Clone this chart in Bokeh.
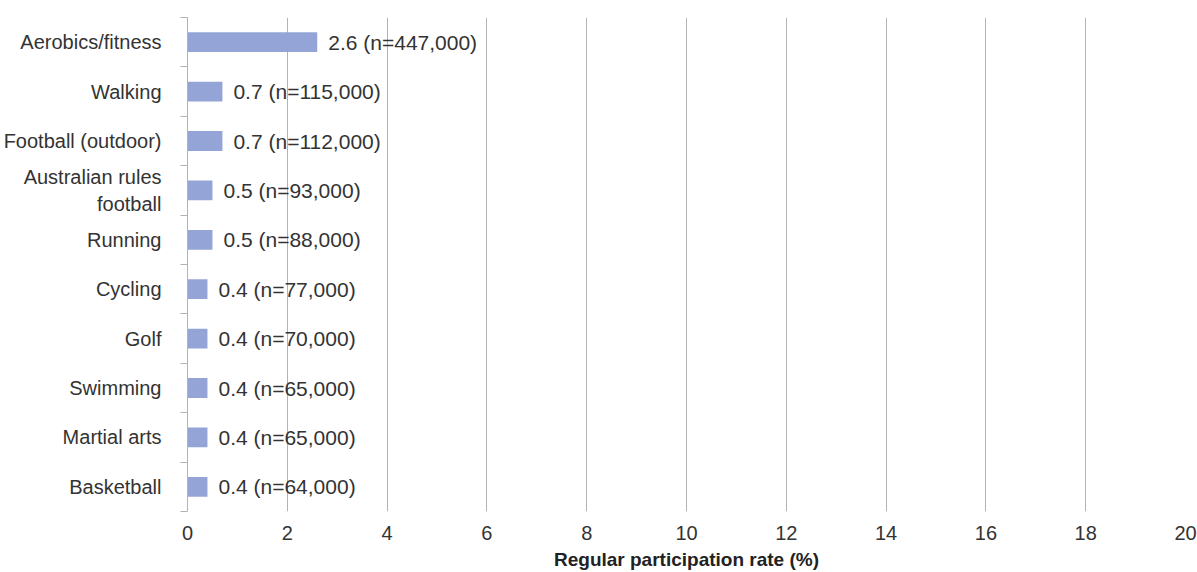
from bokeh.plotting import figure
from bokeh.models import ColumnDataSource, Range1d, FixedTicker
from bokeh.core.properties import value
from bokeh.embed import file_html
from bokeh.resources import INLINE

# Regular participation by activity
sports = ["Aerobics/fitness", "Walking", "Football (outdoor)", "Australian rules\nfootball",
          "Running", "Cycling", "Golf", "Swimming", "Martial arts", "Basketball"]
rates = [2.6, 0.7, 0.7, 0.5, 0.5, 0.4, 0.4, 0.4, 0.4, 0.4]
counts = ["447,000", "115,000", "112,000", "93,000", "88,000",
          "77,000", "70,000", "65,000", "65,000", "64,000"]
x_ticks = list(range(0, 21, 2))
x_title = "Regular participation rate (%)"

FONT = "Liberation Sans"
TEXT = "#333333"
GRID = "#b3b3b3"
BAR = "#95a4d6"

n = len(sports)
ypos = [n - 0.5 - i for i in range(n)]
labels = [f"{r:.1f} (n={c})" for r, c in zip(rates, counts)]

src = ColumnDataSource(dict(y=ypos, rate=rates, label=labels))

p = figure(width=1197, height=572, output_backend="svg", toolbar_location=None,
           x_range=Range1d(0, 20), y_range=Range1d(0, n),
           min_border_left=187, min_border_right=12,
           min_border_top=17, min_border_bottom=59)
p.outline_line_color = None
p.background_fill_color = "white"
p.border_fill_color = "white"

p.hbar(y="y", right="rate", left=0, height=0.4, source=src,
       fill_color=BAR, line_color=None)
p.text(x="rate", y="y", text="label", source=src, x_offset=11,
       text_baseline="middle", text_align="left",
       text_font=value(FONT), text_font_size="21px", text_color=TEXT)

# x axis: no line, gridlines act as ticks
xa = p.xaxis[0]
xa.ticker = FixedTicker(ticks=x_ticks)
xa.axis_line_color = None
xa.major_tick_line_color = None
xa.minor_tick_line_color = None
xa.major_label_standoff = 8
xa.major_label_text_font = FONT
xa.major_label_text_font_size = "20px"
xa.major_label_text_color = TEXT
xa.axis_label = x_title
xa.axis_label_text_font = FONT
xa.axis_label_text_font_style = "bold"
xa.axis_label_text_font_size = "19px"
xa.axis_label_text_color = "#222222"
xa.axis_label_standoff = 6

p.xgrid.ticker = FixedTicker(ticks=x_ticks)
p.xgrid.grid_line_color = GRID
p.xgrid.grid_line_width = 1
p.ygrid.grid_line_color = None

# y axis: category names at row centres, tick marks at row boundaries
ya = p.yaxis[0]
ya.ticker = FixedTicker(ticks=ypos, minor_ticks=list(range(0, n + 1)))
ya.major_label_overrides = {y: s for y, s in zip(ypos, sports)}
ya.major_tick_line_color = None
ya.major_tick_out = 0
ya.minor_tick_line_color = GRID
ya.minor_tick_out = 7
ya.minor_tick_in = 0
ya.axis_line_color = GRID
ya.major_label_standoff = 19
ya.major_label_text_font = FONT
ya.major_label_text_font_size = "20px"
ya.major_label_text_color = TEXT

open("out.html", "w").write(file_html(p, INLINE))
